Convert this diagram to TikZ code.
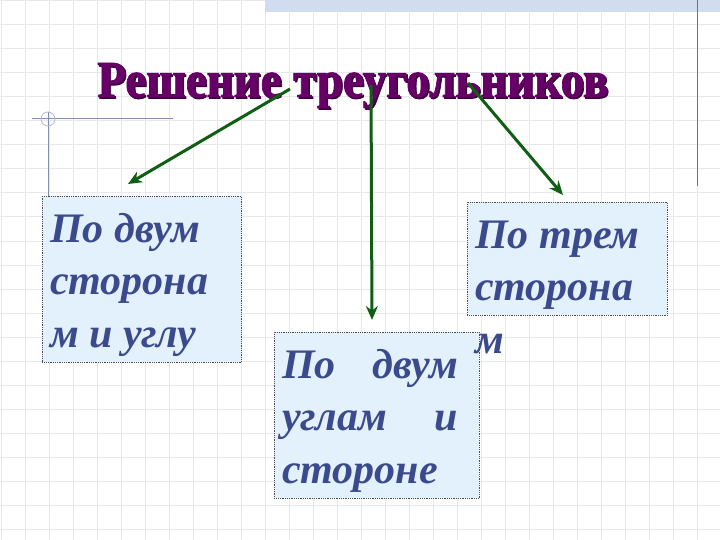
\documentclass[tikz,border=0pt]{standalone}
\usepackage{fontspec}
\usepackage{graphicx}
\setmainfont{Liberation Serif}
\newfontfamily\titlefont[BoldFeatures={FakeBold=1.5}]{Liberation Serif}
\usepackage{tikz}
\usetikzlibrary{arrows.meta,positioning,calc}
\definecolor{titlepurple}{RGB}{102,0,102}
\definecolor{boxtext}{RGB}{59,74,140}
\definecolor{boxfill}{RGB}{227,241,252}
\definecolor{arrowgreen}{RGB}{16,94,20}
\definecolor{gridgrey}{RGB}{232,232,236}
\definecolor{bandblue}{RGB}{208,220,240}
\definecolor{rulegrey}{RGB}{128,142,180}

\begin{document}
\begin{tikzpicture}[x=1pt,y=-1pt,
		gridline/.style={gridgrey, line width=1pt},
		rule/.style={rulegrey, line width=1pt},
		box/.style={rectangle, draw=black!70, densely dotted, line width=0.8pt, fill=boxfill, inner sep=0pt, anchor=north west},
		boxtxt/.style={anchor=base west, inner sep=0pt, align=left, text=boxtext, font=\fontsize{42}{52.5}\selectfont\bfseries\itshape},
		headtxt/.style={anchor=base west, inner sep=0pt, font=\titlefont\bfseries},
		arr/.style={arrowgreen, line width=3pt, -{Stealth[length=14pt,width=12pt]}}]
	\useasboundingbox (0,0) rectangle (720,540);
	\fill[white] (0,0) rectangle (720,540);
	\foreach \gx in {1,25,...,697} \draw[gridline] (\gx,0) -- (\gx,540);
	\foreach \gy in {1,25,...,529} \draw[gridline] (0,\gy) -- (720,\gy);
	\fill[bandblue] (265,0) rectangle (720,12);
	\draw[rule, rulegrey!80!black] (697,0) -- (697,186);
	\draw[rule] (32,119) -- (173,119);
	\draw[rule] (48,112) -- (48,196);
	\draw[rulegrey!60, line width=0.8pt] (48,119) circle (7);

	\node[box, minimum width=199pt, minimum height=166pt] (b_1) at (42,196) {};
	\node[box, minimum width=205pt, minimum height=166pt] (b_2) at (274,332) {};
	\node[box, minimum width=200pt, minimum height=113pt] (b_3) at (467,202) {};

	\node[boxtxt] (t_1) at ($(b_1.north west)+(8,151)$) {По двум\\сторона\\м и углу};
	\node[boxtxt] (t_2) at ($(b_2.north west)+(8,151)$) {\hbox to 176pt{По\hfill двум}\\\hbox to 176pt{углам\hfill и}\\стороне};
	\node[boxtxt] (t_3) at ($(b_3.north west)+(8,151)$) {По трем\\сторона\\м};

	\node[headtxt, text=titlepurple!60!black] at (98.5,98.5) {\resizebox{511pt}{34pt}{Решение треугольников}};
	\node[headtxt, text=titlepurple] (title) at (97,97) {\resizebox{511pt}{34pt}{Решение треугольников}};

	\coordinate (s_1) at (290,89);
	\coordinate (s_2) at (371,85);
	\coordinate (s_3) at (468,83);
	\coordinate (e_1) at ($(b_1.north west)+(86,-12)$);
	\coordinate (e_2) at ($(b_2.north west)+(98,-12)$);
	\coordinate (e_3) at ($(b_3.north west)+(96,-7)$);
	\path[arr]
		(s_1)	edge (e_1)
		(s_2)	edge (e_2)
		(s_3)	edge (e_3);
\end{tikzpicture}
\end{document}
